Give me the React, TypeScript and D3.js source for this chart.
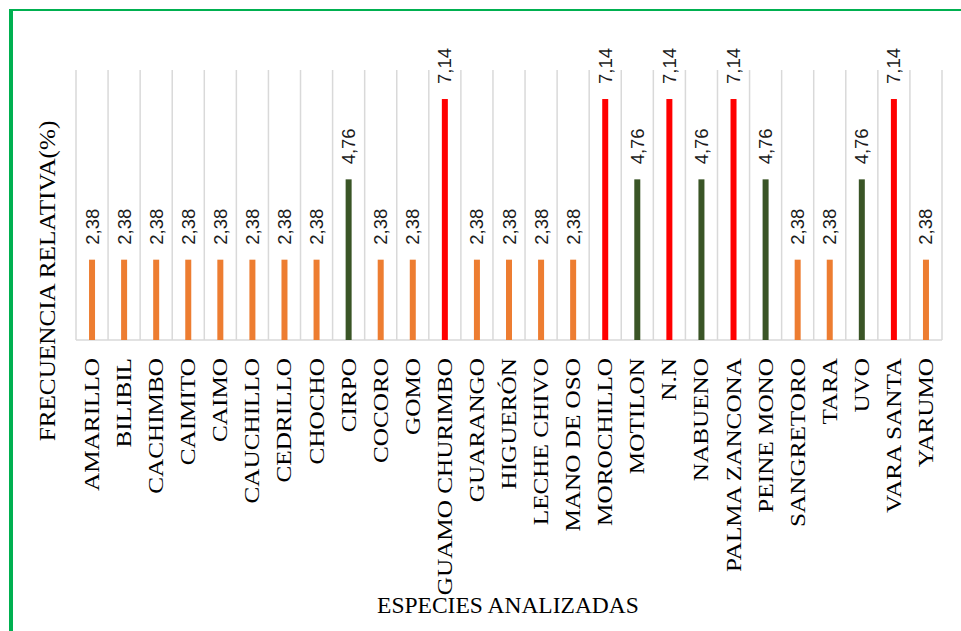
import React from "react";
import * as d3 from "d3";

const categories = [
  "AMARILLO", "BILIBIL", "CACHIMBO", "CAIMITO", "CAIMO", "CAUCHILLO", "CEDRILLO",
  "CHOCHO", "CIRPO", "COCORO", "GOMO", "GUAMO CHURIMBO", "GUARANGO", "HIGUERÓN",
  "LECHE CHIVO", "MANO DE OSO", "MOROCHILLO", "MOTILON", "N.N", "NABUENO",
  "PALMA ZANCONA", "PEINE MONO", "SANGRETORO", "TARA", "UVO", "VARA SANTA", "YARUMO",
];
const values = [
  2.38, 2.38, 2.38, 2.38, 2.38, 2.38, 2.38,
  2.38, 4.76, 2.38, 2.38, 7.14, 2.38, 2.38,
  2.38, 2.38, 7.14, 4.76, 7.14, 4.76,
  7.14, 4.76, 2.38, 2.38, 4.76, 7.14, 2.38,
];
const levels = [2.38, 4.76, 7.14];
const yTitle = "FRECUENCIA RELATIVA(%)";
const xTitle = "ESPECIES ANALIZADAS";

const W = 961;
const H = 631;
const plotLeft = 76;
const plotRight = 942;
const plotTop = 70;
const plotBottom = 340;

export default function App() {
  const x = d3.scaleBand<string>().domain(categories).range([plotLeft, plotRight]).padding(0);
  const y = d3.scaleLinear().domain([0, 8]).range([plotBottom, plotTop]);
  const color = d3.scaleOrdinal<number, string>().domain(levels).range(["#ED7D31", "#3A5526", "#FF0000"]);
  const fmt = (v: number) => v.toFixed(2).replace(".", ",");
  const barW = 6;
  const boundaries = categories.map((c) => x(c) as number).concat([plotRight]);

  return (
    <svg width={W} height={H} style={{ position: "absolute", left: 0, top: 0, background: "#fff" }}>
      <rect x={0} y={0} width={W} height={H} fill="#fff" />
      {/* green frame */}
      <rect x={9} y={9} width={W - 9} height={2} fill="#00B050" />
      <rect x={9} y={9} width={4} height={H - 9} fill="#00B050" />

      {/* vertical gridlines */}
      {boundaries.map((bx, i) => (
        <line key={i} x1={bx} x2={bx} y1={plotTop} y2={plotBottom} stroke="#D9D9D9" strokeWidth={1.5} />
      ))}
      <line x1={plotLeft} x2={plotRight} y1={plotBottom} y2={plotBottom} stroke="#D9D9D9" strokeWidth={1.5} />

      {/* bars */}
      {categories.map((c, i) => {
        const cx = (x(c) as number) + x.bandwidth() / 2;
        return (
          <rect key={c} x={cx - barW / 2} y={y(values[i])} width={barW}
            height={plotBottom - y(values[i])} fill={color(values[i])} />
        );
      })}

      {/* value labels */}
      {categories.map((c, i) => {
        const cx = (x(c) as number) + x.bandwidth() / 2;
        return (
          <text key={"v" + c} transform={`translate(${cx + 6.5},${y(values[i]) - 15}) rotate(-90)`}
            fontFamily="'Liberation Sans', Arial, sans-serif" fontSize={18.5} fill="#1a1a1a" textAnchor="start">
            {fmt(values[i])}
          </text>
        );
      })}

      {/* category labels */}
      {categories.map((c) => {
        const cx = (x(c) as number) + x.bandwidth() / 2;
        return (
          <text key={"c" + c} transform={`translate(${cx + 7},${plotBottom + 18}) rotate(-90) scale(1.2,1)`}
            fontFamily="'Liberation Serif', 'Times New Roman', serif" fontSize={21} fill="#000" textAnchor="end">
            {c}
          </text>
        );
      })}

      {/* axis titles */}
      <text transform={`translate(55,281) rotate(-90) scale(1.12,1)`} textAnchor="middle"
        fontFamily="'Liberation Serif', 'Times New Roman', serif" fontSize={22.5} fill="#000">
        {yTitle}
      </text>
      <text x={508} y={613} textAnchor="middle"
        fontFamily="'Liberation Serif', 'Times New Roman', serif" fontSize={23.5} fill="#000">
        {xTitle}
      </text>
    </svg>
  );
}
